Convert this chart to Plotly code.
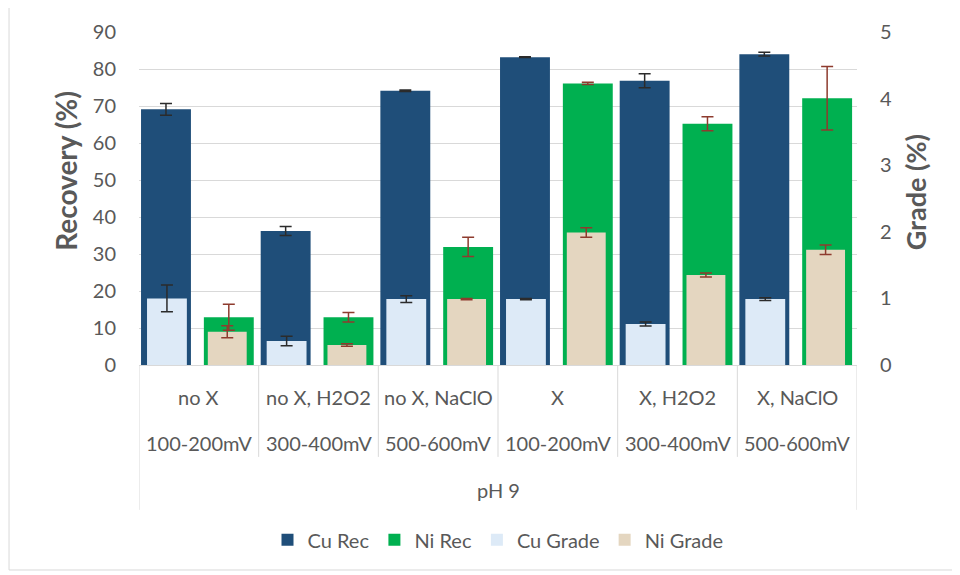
import plotly.graph_objects as go

# ---- data ----
treatments = ["no X", "no X, H2O2", "no X, NaClO", "X", "X, H2O2", "X, NaClO"]
potentials = ["100-200mV", "300-400mV", "500-600mV", "100-200mV", "300-400mV", "500-600mV"]
ph_label = "pH 9"

cu_rec = [69.1, 36.2, 74.1, 83.2, 76.8, 84.0]
cu_rec_err = [1.6, 1.2, 0.2, 0.1, 1.9, 0.5]
ni_rec = [12.9, 12.9, 31.9, 76.1, 65.2, 72.1]
ni_rec_err = [3.5, 1.3, 2.6, 0.3, 1.9, 8.6]
cu_grade = [1.00, 0.36, 0.99, 0.99, 0.615, 0.99]
cu_grade_err = [0.2, 0.07, 0.05, 0.01, 0.03, 0.02]
ni_grade = [0.50, 0.30, 0.99, 1.99, 1.35, 1.73]
ni_grade_err = [0.09, 0.02, 0.01, 0.07, 0.03, 0.07]

rec_ticks = list(range(0, 91, 10))
grade_ticks = [0, 1, 2, 3, 4, 5]

FONT = "Lato"
GREY = "#595959"
GRID = "#D9D9D9"

xs = list(range(len(treatments)))

fig = go.Figure()
fig.add_trace(go.Bar(
    x=xs, y=cu_rec, name="Cu Rec", yaxis="y",
    offset=-0.483, width=0.417, marker=dict(color="#1F4E79", line=dict(width=0)),
    error_y=dict(type="data", array=cu_rec_err, color="#2b2b2b", thickness=1.5, width=6),
))
fig.add_trace(go.Bar(
    x=xs, y=ni_rec, name="Ni Rec", yaxis="y",
    offset=0.042, width=0.417, marker=dict(color="#00B050", line=dict(width=0)),
    error_y=dict(type="data", array=ni_rec_err, color="#8E3B2E", thickness=1.5, width=6),
))
fig.add_trace(go.Bar(
    x=xs, y=cu_grade, name="Cu Grade", yaxis="y2",
    offset=-0.433, width=0.333, marker=dict(color="#DDEAF7", line=dict(width=0)),
    error_y=dict(type="data", array=cu_grade_err, color="#2b2b2b", thickness=1.5, width=6),
))
fig.add_trace(go.Bar(
    x=xs, y=ni_grade, name="Ni Grade", yaxis="y2",
    offset=0.075, width=0.325, marker=dict(color="#E4D6C0", line=dict(width=0)),
    error_y=dict(type="data", array=ni_grade_err, color="#8E3B2E", thickness=1.5, width=6),
))

annotations = []
for i in xs:
    annotations.append(dict(x=i, y=-0.096, xref="x", yref="paper", text=treatments[i],
                            showarrow=False, xanchor="center", yanchor="middle",
                            font=dict(family=FONT, size=20, color=GREY)))
    annotations.append(dict(x=i, y=-0.234, xref="x", yref="paper", text=potentials[i],
                            showarrow=False, xanchor="center", yanchor="middle",
                            font=dict(family=FONT, size=20, color=GREY)))
annotations.append(dict(x=(xs[0] + xs[-1]) / 2, y=-0.375, xref="x", yref="paper", text=ph_label,
                        showarrow=False, xanchor="center", yanchor="middle",
                        font=dict(family=FONT, size=20, color=GREY)))
annotations.append(dict(x=-0.1017, y=0.583, xref="paper", yref="paper", text="<b>Recovery (%)</b>",
                        showarrow=False, textangle=-90, xanchor="center", yanchor="middle",
                        font=dict(family=FONT, size=28, color=GREY)))
annotations.append(dict(x=1.081, y=0.519, xref="paper", yref="paper", text="<b>Grade (%)</b>",
                        showarrow=False, textangle=-90, xanchor="center", yanchor="middle",
                        font=dict(family=FONT, size=27, color=GREY)))

shapes = []
n = len(treatments)
for k in range(n + 1):
    outer = k in (0, n)
    shapes.append(dict(type="line", xref="x", yref="paper",
                       x0=k - 0.5, x1=k - 0.5, y0=0, y1=-0.435 if outer else -0.276,
                       line=dict(color=GRID, width=1)))
# outer chart border
shapes.append(dict(type="rect", xref="paper", yref="paper",
                   x0=-0.181, x1=1.1365, y0=-0.6156, y1=1.087,
                   line=dict(color=GRID, width=1), fillcolor="rgba(0,0,0,0)", layer="below"))

fig.update_layout(
    width=960, height=575,
    margin=dict(l=131, r=111, t=24, b=218),
    paper_bgcolor="white", plot_bgcolor="white",
    barmode="overlay",
    font=dict(family=FONT, size=20, color=GREY),
    xaxis=dict(range=[-0.5, 5.5], showticklabels=False, showgrid=False, zeroline=False,
               showline=True, linecolor=GRID, linewidth=1, ticks=""),
    yaxis=dict(range=[0, 90], tickvals=rec_ticks, showgrid=True, gridcolor=GRID, gridwidth=1,
               zeroline=False, showline=False, ticks="", ticklabelstandoff=22,
               tickfont=dict(family=FONT, size=20, color=GREY)),
    yaxis2=dict(range=[0, 5], tickvals=grade_ticks, overlaying="y", side="right",
                showgrid=False, zeroline=False, showline=False, ticks="", ticklabelstandoff=22,
                tickfont=dict(family=FONT, size=20, color=GREY)),
    legend=dict(orientation="h", x=0.5, xanchor="center", y=-0.525, yanchor="middle",
                font=dict(family=FONT, size=20, color=GREY), traceorder="normal",
                itemwidth=30),
    annotations=annotations,
    shapes=shapes,
    showlegend=True,
)

fig.write_html("out.html")
